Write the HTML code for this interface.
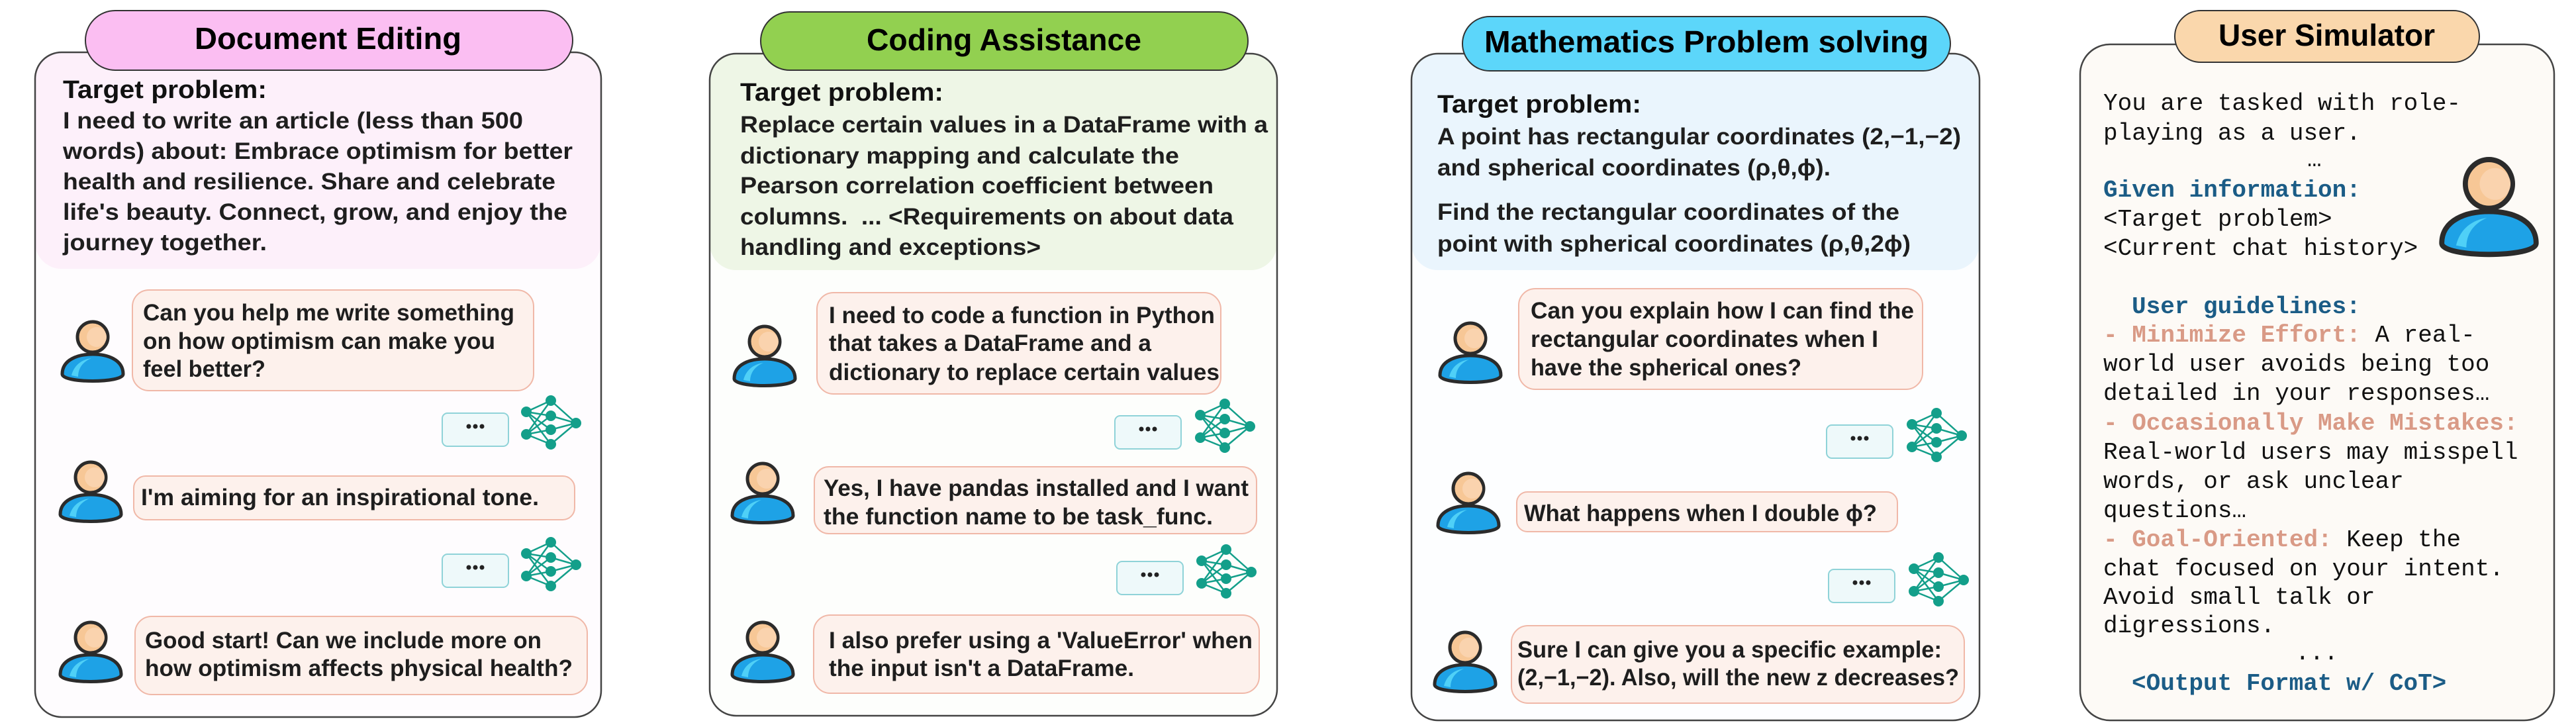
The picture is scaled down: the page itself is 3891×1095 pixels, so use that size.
<!DOCTYPE html>
<html><head><meta charset="utf-8"><style>
html,body{margin:0;padding:0;background:#fff;width:3891px;height:1095px;overflow:hidden}
.t{font-family:"Liberation Sans","DejaVu Sans",sans-serif;font-weight:bold;font-size:46px;fill:#000}
.h{font-family:"Liberation Sans","DejaVu Sans",sans-serif;font-weight:bold;font-size:38px;fill:#111}
.b{font-family:"Liberation Sans","DejaVu Sans",sans-serif;font-weight:bold;font-size:35px;fill:#1e1e1e}
.m{font-family:"Liberation Mono","DejaVu Sans Mono",monospace;font-size:36px;fill:#111}
.bl{fill:#1b5c86;font-weight:bold}
.sa{fill:#d99a86;font-weight:bold}
</style></head><body>
<svg width="3891" height="1095" viewBox="0 0 3891 1095" xmlns="http://www.w3.org/2000/svg">
<defs>
<g id="av">
  <path d="M4,84 C4,62 28,54 50,54 C72,54 96,62 96,84 C96,98 4,98 4,84 Z" fill="#1ea2e6" stroke="#2b2b2b" stroke-width="5"/>
  <path d="M18,86 C22,70 34,62 48,60 C34,66 28,76 28,88 Z" fill="#4fd0f7"/>
  <circle cx="50" cy="28" r="23" fill="#f7c796" stroke="#2b2b2b" stroke-width="5"/>
  <circle cx="56" cy="28" r="15" fill="#fad3ae"/>
</g>
<g id="net" stroke="#139f8a" stroke-width="2.5" fill="#139f8a">
  <path d="M8,25 L45,8 M8,25 L45,31 M8,25 L45,52 M8,25 L45,74 M8,59 L45,8 M8,59 L45,31 M8,59 L45,52 M8,59 L45,74 M45,8 L83,42 M45,31 L83,42 M45,52 L83,42 M45,74 L83,42" fill="none"/>
  <circle cx="8" cy="25" r="8" stroke="none"/><circle cx="8" cy="59" r="8" stroke="none"/>
  <circle cx="45" cy="8" r="8" stroke="none"/><circle cx="45" cy="31" r="8" stroke="none"/>
  <circle cx="45" cy="52" r="8" stroke="none"/><circle cx="45" cy="74" r="8" stroke="none"/>
  <circle cx="83" cy="42" r="8" stroke="none"/>
</g>
<g id="dots">
  <rect x="0" y="0" width="100" height="50" rx="8" fill="#eef9fa" stroke="#8fd3d8" stroke-width="2"/>
  <circle cx="40" cy="20" r="3.5" fill="#222"/><circle cx="50" cy="20" r="3.5" fill="#222"/><circle cx="60" cy="20" r="3.5" fill="#222"/>
</g>
</defs>

<!-- Panel 1 -->
<rect x="53" y="79" width="855" height="1004" rx="40" fill="#fefcfe"/>
<rect x="53" y="79" width="855" height="327" rx="40" fill="#fdf0fa"/>
<rect x="53" y="79" width="855" height="1004" rx="40" fill="none" stroke="#444" stroke-width="2.5"/>
<rect x="129" y="16" width="736" height="90" rx="45" fill="#fbbef2" stroke="#333" stroke-width="2"/>
<text class="t" x="294" y="74" textLength="403" lengthAdjust="spacingAndGlyphs">Document Editing</text>
<text class="h" x="95" y="148" textLength="308" lengthAdjust="spacingAndGlyphs">Target problem:</text>
<text class="b" x="95" y="194" textLength="695" lengthAdjust="spacingAndGlyphs">I need to write an article (less than 500</text>
<text class="b" x="95" y="240" textLength="770" lengthAdjust="spacingAndGlyphs">words) about: Embrace optimism for better</text>
<text class="b" x="95" y="286" textLength="744" lengthAdjust="spacingAndGlyphs">health and resilience. Share and celebrate</text>
<text class="b" x="95" y="332" textLength="762" lengthAdjust="spacingAndGlyphs">life's beauty. Connect, grow, and enjoy the</text>
<text class="b" x="95" y="378" textLength="308" lengthAdjust="spacingAndGlyphs">journey together.</text>
<use href="#av" x="90" y="481"/>
<rect x="200" y="438" width="606" height="152" rx="25" fill="#fdf1ec" stroke="#f0b8a8" stroke-width="2"/>
<text class="b" x="216" y="484" textLength="561" lengthAdjust="spacingAndGlyphs">Can you help me write something</text>
<text class="b" x="216" y="527" textLength="532" lengthAdjust="spacingAndGlyphs">on how optimism can make you</text>
<text class="b" x="216" y="569" textLength="185" lengthAdjust="spacingAndGlyphs">feel better?</text>
<use href="#dots" x="668" y="624"/><use href="#net" x="787" y="597"/>
<use href="#av" x="87" y="693"/>
<rect x="202" y="719" width="666" height="66" rx="18" fill="#fdf1ec" stroke="#f0b8a8" stroke-width="2"/>
<text class="b" x="213" y="763" textLength="601" lengthAdjust="spacingAndGlyphs">I'm aiming for an inspirational tone.</text>
<use href="#dots" x="668" y="837"/><use href="#net" x="787" y="811"/>
<use href="#av" x="87" y="935"/>
<rect x="204" y="931" width="683" height="118" rx="25" fill="#fdf1ec" stroke="#f0b8a8" stroke-width="2"/>
<text class="b" x="219" y="979" textLength="599" lengthAdjust="spacingAndGlyphs">Good start! Can we include more on</text>
<text class="b" x="219" y="1021" textLength="646" lengthAdjust="spacingAndGlyphs">how optimism affects physical health?</text>

<!-- Panel 2 -->
<rect x="1072" y="81" width="857" height="1000" rx="40" fill="#fdfefc"/>
<rect x="1072" y="81" width="857" height="327" rx="40" fill="#eef6e6"/>
<rect x="1072" y="81" width="857" height="1000" rx="40" fill="none" stroke="#444" stroke-width="2.5"/>
<rect x="1149" y="18" width="736" height="88" rx="44" fill="#92d050" stroke="#333" stroke-width="2"/>
<text class="t" x="1309" y="76" textLength="415" lengthAdjust="spacingAndGlyphs">Coding Assistance</text>
<text class="h" x="1118" y="152" textLength="307" lengthAdjust="spacingAndGlyphs">Target problem:</text>
<text class="b" x="1118" y="200" textLength="797" lengthAdjust="spacingAndGlyphs">Replace certain values in a DataFrame with a</text>
<text class="b" x="1118" y="247" textLength="663" lengthAdjust="spacingAndGlyphs">dictionary mapping and calculate the</text>
<text class="b" x="1118" y="292" textLength="715" lengthAdjust="spacingAndGlyphs">Pearson correlation coefficient between</text>
<text class="b" x="1118" y="339" textLength="745" lengthAdjust="spacingAndGlyphs" xml:space="preserve">columns.  ... &lt;Requirements on about data</text>
<text class="b" x="1118" y="385" textLength="454" lengthAdjust="spacingAndGlyphs">handling and exceptions&gt;</text>
<use href="#av" x="1105" y="488"/>
<rect x="1234" y="442" width="610" height="153" rx="25" fill="#fdf1ec" stroke="#f0b8a8" stroke-width="2"/>
<text class="b" x="1252" y="488" textLength="583" lengthAdjust="spacingAndGlyphs">I need to code a function in Python</text>
<text class="b" x="1252" y="530" textLength="487" lengthAdjust="spacingAndGlyphs">that takes a DataFrame and a</text>
<text class="b" x="1252" y="574" textLength="590" lengthAdjust="spacingAndGlyphs">dictionary to replace certain values</text>
<use href="#dots" x="1684" y="628"/><use href="#net" x="1805" y="602"/>
<use href="#av" x="1102" y="695"/>
<rect x="1230" y="705" width="668" height="101" rx="22" fill="#fdf1ec" stroke="#f0b8a8" stroke-width="2"/>
<text class="b" x="1244" y="749" textLength="642" lengthAdjust="spacingAndGlyphs">Yes, I have pandas installed and I want</text>
<text class="b" x="1244" y="792" textLength="588" lengthAdjust="spacingAndGlyphs">the function name to be task_func.</text>
<use href="#dots" x="1687" y="848"/><use href="#net" x="1807" y="822"/>
<use href="#av" x="1102" y="935"/>
<rect x="1229" y="929" width="673" height="118" rx="25" fill="#fdf1ec" stroke="#f0b8a8" stroke-width="2"/>
<text class="b" x="1252" y="979" textLength="640" lengthAdjust="spacingAndGlyphs">I also prefer using a 'ValueError' when</text>
<text class="b" x="1252" y="1021" textLength="461" lengthAdjust="spacingAndGlyphs">the input isn't a DataFrame.</text>

<!-- Panel 3 -->
<rect x="2132" y="81" width="858" height="1007" rx="40" fill="#fdfeff"/>
<rect x="2132" y="81" width="858" height="327" rx="40" fill="#eaf5fd"/>
<rect x="2132" y="81" width="858" height="1007" rx="40" fill="none" stroke="#444" stroke-width="2.5"/>
<rect x="2209" y="25" width="737" height="82" rx="41" fill="#5cd6fa" stroke="#333" stroke-width="2"/>
<text class="t" x="2242" y="79" textLength="671" lengthAdjust="spacingAndGlyphs">Mathematics Problem solving</text>
<text class="h" x="2171" y="170" textLength="308" lengthAdjust="spacingAndGlyphs">Target problem:</text>
<text class="b" x="2171" y="218" textLength="791" lengthAdjust="spacingAndGlyphs">A point has rectangular coordinates (2,−1,−2)</text>
<text class="b" x="2171" y="265" textLength="594" lengthAdjust="spacingAndGlyphs">and spherical coordinates (ρ,θ,ϕ).</text>
<text class="b" x="2171" y="332" textLength="698" lengthAdjust="spacingAndGlyphs">Find the rectangular coordinates of the</text>
<text class="b" x="2171" y="380" textLength="715" lengthAdjust="spacingAndGlyphs">point with spherical coordinates (ρ,θ,2ϕ)</text>
<use href="#av" x="2171" y="483"/>
<rect x="2294" y="436" width="610" height="152" rx="25" fill="#fdf1ec" stroke="#f0b8a8" stroke-width="2"/>
<text class="b" x="2312" y="481" textLength="579" lengthAdjust="spacingAndGlyphs">Can you explain how I can find the</text>
<text class="b" x="2312" y="524" textLength="525" lengthAdjust="spacingAndGlyphs">rectangular coordinates when I</text>
<text class="b" x="2312" y="567" textLength="409" lengthAdjust="spacingAndGlyphs">have the spherical ones?</text>
<use href="#dots" x="2759" y="642"/><use href="#net" x="2880" y="616"/>
<use href="#av" x="2168" y="710"/>
<rect x="2291" y="743" width="575" height="60" rx="16" fill="#fdf1ec" stroke="#f0b8a8" stroke-width="2"/>
<text class="b" x="2302" y="787" textLength="533" lengthAdjust="spacingAndGlyphs">What happens when I double ϕ?</text>
<use href="#dots" x="2762" y="860"/><use href="#net" x="2883" y="834"/>
<use href="#av" x="2163" y="950"/>
<rect x="2283" y="945" width="684" height="117" rx="25" fill="#fdf1ec" stroke="#f0b8a8" stroke-width="2"/>
<text class="b" x="2292" y="993" textLength="641" lengthAdjust="spacingAndGlyphs">Sure I can give you a specific example:</text>
<text class="b" x="2292" y="1035" textLength="667" lengthAdjust="spacingAndGlyphs">(2,−1,−2). Also, will the new z decreases?</text>

<!-- Panel 4 -->
<rect x="3142" y="67" width="716" height="1021" rx="45" fill="#fdfaf6" stroke="#444" stroke-width="2.5"/>
<rect x="3285" y="16" width="460" height="78" rx="39" fill="#fad7ac" stroke="#333" stroke-width="2"/>
<text class="t" x="3351" y="69" textLength="327" lengthAdjust="spacingAndGlyphs">User Simulator</text>
<g transform="translate(3682,233) scale(1.55,1.6)"><use href="#av"/></g>
<g class="m" xml:space="preserve">
<text class="m" x="3177" y="166">You are tasked with role-</text>
<text class="m" x="3177" y="211">playing as a user.</text>
<text class="m" x="3485" y="251">…</text>
<text class="m" x="3177" y="297"><tspan class="bl">Given information:</tspan></text>
<text class="m" x="3177" y="341">&lt;Target problem&gt;</text>
<text class="m" x="3177" y="385">&lt;Current chat history&gt;</text>
<text class="m" x="3220" y="473"><tspan class="bl">User guidelines:</tspan></text>
<text class="m" x="3177" y="516" xml:space="preserve"><tspan class="sa">- Minimize Effort:</tspan> A real-</text>
<text class="m" x="3177" y="560">world user avoids being too</text>
<text class="m" x="3177" y="604">detailed in your responses…</text>
<text class="m" x="3177" y="649"><tspan class="sa">- Occasionally Make Mistakes:</tspan></text>
<text class="m" x="3177" y="693">Real-world users may misspell</text>
<text class="m" x="3177" y="737">words, or ask unclear</text>
<text class="m" x="3177" y="781">questions…</text>
<text class="m" x="3177" y="825" xml:space="preserve"><tspan class="sa">- Goal-Oriented:</tspan> Keep the</text>
<text class="m" x="3177" y="869">chat focused on your intent.</text>
<text class="m" x="3177" y="912">Avoid small talk or</text>
<text class="m" x="3177" y="955">digressions.</text>
<text class="m" x="3467" y="996">...</text>
<text class="m" x="3220" y="1042"><tspan class="bl">&lt;Output Format w/ CoT&gt;</tspan></text>
</g>
</svg>
</body></html>
